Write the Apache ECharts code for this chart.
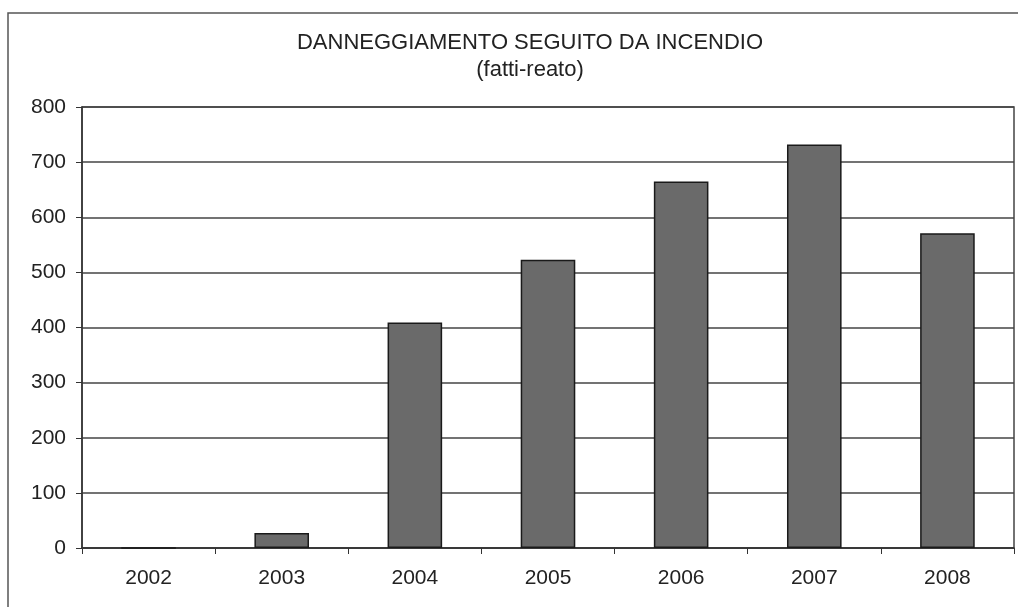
<!DOCTYPE html>
<html>
<head>
<meta charset="utf-8">
<script src="https://cdn.jsdelivr.net/npm/echarts@6/dist/echarts.min.js"></script>
</head>
<body style="margin:0;background:#fff">
<div id="main" style="width:1018px;height:607px;"></div>
<script>
var anni = ['2002', '2003', '2004', '2005', '2006', '2007', '2008'];
var fatti = [0, 27, 409, 523, 665, 732, 571];
var yTicks = [0, 100, 200, 300, 400, 500, 600, 700, 800];

var myChart = echarts.init(document.getElementById('main'));
var font = 'Liberation Sans, Arial, sans-serif';

myChart.setOption({
    backgroundColor: '#fff',
    animation: false,
    // cornice esterna (esce dal bordo destro e inferiore come nel grafico originale)
    graphic: [{
        type: 'rect',
        shape: {x: 8, y: 13, width: 1100, height: 700},
        style: {fill: 'none', stroke: '#555', lineWidth: 1.5},
        z: -1
    }],
    title: {
        text: 'DANNEGGIAMENTO SEGUITO DA INCENDIO',
        subtext: '(fatti-reato)',
        left: 525,
        top: 27,
        textAlign: 'center',
        itemGap: 5,
        textStyle: {fontFamily: font, fontSize: 22, fontWeight: 'normal', color: '#222', lineHeight: 22},
        subtextStyle: {fontFamily: font, fontSize: 22, color: '#222', lineHeight: 22}
    },
    grid: {
        left: 82,
        right: 4,
        top: 107,
        bottom: 59,
        show: true,
        borderColor: '#444',
        borderWidth: 1.5,
        containLabel: false
    },
    xAxis: {
        type: 'category',
        data: anni,
        axisLine: {lineStyle: {color: '#333', width: 1.5}},
        axisTick: {show: true, alignWithLabel: false, length: 6, lineStyle: {color: '#333'}},
        axisLabel: {fontFamily: font, fontSize: 21, color: '#222', margin: 20}
    },
    yAxis: {
        type: 'value',
        min: yTicks[0],
        max: yTicks[yTicks.length - 1],
        interval: 100,
        axisLine: {show: true, lineStyle: {color: '#333', width: 1.5}},
        axisTick: {show: true, length: 6, lineStyle: {color: '#333'}},
        axisLabel: {fontFamily: font, fontSize: 21, color: '#222', margin: 16},
        splitLine: {lineStyle: {color: '#444', width: 1.5}}
    },
    series: [{
        type: 'bar',
        data: fatti,
        barCategoryGap: '59%',
        itemStyle: {color: '#6a6a6a', borderColor: '#1a1a1a', borderWidth: 1.5}
    }]
});
</script>
</body>
</html>
